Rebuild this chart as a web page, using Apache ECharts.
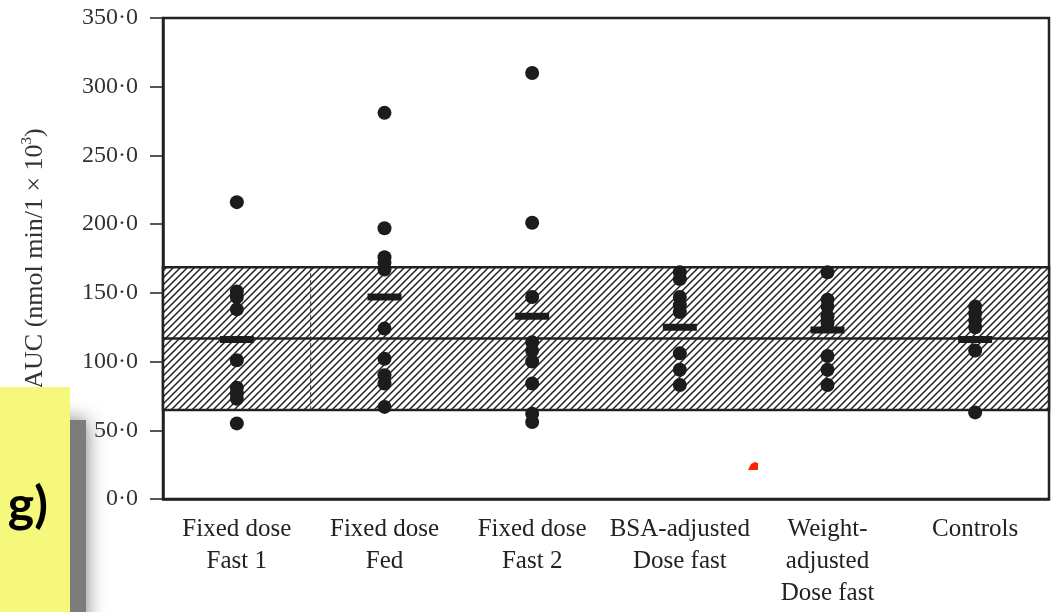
<!DOCTYPE html>
<html>
<head>
<meta charset="utf-8">
<script src="https://cdn.jsdelivr.net/npm/echarts@6/dist/echarts.min.js"></script>
<style>
  html, body { margin: 0; padding: 0; background: #fff; }
  #chart { width: 1057px; height: 612px; }
</style>
</head>
<body>
<div id="chart"></div>
<script>
// Study groups along the x axis
const categories = [
  'Fixed dose\nFast 1',
  'Fixed dose\nFed',
  'Fixed dose\nFast 2',
  'BSA-adjusted\nDose fast',
  'Weight-\nadjusted\nDose fast',
  'Controls'
];

// Individual AUC values (nmol min/l × 10³) per group
const fixedFast1     = [216, 151, 147, 138, 101, 81, 77, 73, 55];
const fixedFed       = [281, 197, 176, 172, 167, 124, 102, 90, 84, 67];
const fixedFast2     = [310, 201, 147, 114, 108, 100, 84, 62, 56];
const bsaAdjusted    = [165, 160, 147, 141, 136, 106, 94, 83];
const weightAdjusted = [165, 145, 140, 133, 128, 104, 94, 83];
const controls       = [140, 135, 130, 125, 108, 63];

// Group means (horizontal bars)
const groupMeans = [116, 147, 133, 125, 123, 116];

// Control reference range (mean and band limits)
const refMean = 117;
const refLow = 64.7;
const refHigh = 168.6;

// Y axis ticks
const yTickValues = [0, 50, 100, 150, 200, 250, 300, 350];

const groups = [fixedFast1, fixedFed, fixedFast2, bsaAdjusted, weightAdjusted, controls];
const pointData = [];
groups.forEach((vals, i) => vals.forEach(v => pointData.push([i, v])));
const meanData = groupMeans.map((m, i) => [i, m]);

// Diagonal hatch tile for the reference band
function hatchTile() {
  const s = 7;
  const c = document.createElement('canvas');
  c.width = s; c.height = s;
  const g = c.getContext('2d');
  g.fillStyle = '#ffffff';
  g.fillRect(0, 0, s, s);
  g.strokeStyle = '#222222';
  g.lineWidth = 1.5;
  g.beginPath();
  g.moveTo(-1, s + 1); g.lineTo(s + 1, -1);
  g.moveTo(-1, 1); g.lineTo(1, -1);
  g.moveTo(s - 1, s + 1); g.lineTo(s + 1, s - 1);
  g.stroke();
  return c;
}
const hatch = hatchTile();

const serif = '"Liberation Serif", "Times New Roman", serif';
const ink = '#222222';
const dot = '#1c1c1c';

const chart = echarts.init(document.getElementById('chart'), null, { renderer: 'canvas' });

chart.setOption({
  animation: false,
  backgroundColor: '#ffffff',
  grid: {
    left: 163, right: 8, top: 18, bottom: 113,
    show: true, borderColor: ink, borderWidth: 2.5, backgroundColor: 'transparent'
  },
  xAxis: [
    {
      type: 'category',
      data: categories,
      boundaryGap: true,
      axisLine: { lineStyle: { color: ink, width: 2.5 } },
      axisTick: { length: 9, lineStyle: { color: ink, width: 1.5 } },
      axisLabel: {
        interval: 0, margin: 14, color: ink,
        fontFamily: serif, fontSize: 25, lineHeight: 32
      },
      splitLine: { show: false }
    },
    {
      type: 'value', min: 0, max: categories.length, show: false
    }
  ],
  yAxis: {
    type: 'value',
    min: yTickValues[0],
    max: yTickValues[yTickValues.length - 1],
    interval: 50,
    name: '{t|AUC (nmol min/1 × 10}{sup|3}{t|)}',
    nameLocation: 'middle',
    nameGap: 113,
    nameRotate: 90,
    nameTextStyle: {
      rich: {
        t: { fontFamily: serif, fontSize: 26, color: '#333', lineHeight: 30 },
        sup: { fontFamily: serif, fontSize: 15, color: '#333', verticalAlign: 'top', lineHeight: 30 }
      }
    },
    axisLine: { show: true, lineStyle: { color: ink, width: 2.5 } },
    axisTick: { show: true, length: 13, lineStyle: { color: ink, width: 1.5 } },
    axisLabel: {
      margin: 25, color: '#333', fontFamily: serif, fontSize: 24,
      formatter: v => v.toFixed(1).replace('.', '\u00B7')
    },
    splitLine: { show: false }
  },
  series: [
    {
      // hatched reference band across the full plot width
      type: 'custom',
      xAxisIndex: 1,
      z: 1,
      silent: true,
      data: [[0, refLow, categories.length, refHigh]],
      renderItem: (params, api) => {
        const p0 = api.coord([api.value(0), api.value(3)]);
        const p1 = api.coord([api.value(2), api.value(1)]);
        return {
          type: 'rect',
          shape: { x: p0[0], y: p0[1], width: p1[0] - p0[0], height: p1[1] - p0[1] },
          style: { fill: { image: hatch, repeat: 'repeat' }, stroke: ink, lineWidth: 2.5 }
        };
      }
    },
    {
      // dashed divider inside the band and the reference mean line
      type: 'line',
      xAxisIndex: 1,
      z: 2,
      symbol: 'none',
      silent: true,
      data: [[1, refLow], [1, refHigh]],
      lineStyle: { color: '#333', width: 1, type: [4, 3] },
      markLine: {
        silent: true, symbol: 'none', z: 2,
        label: { show: false },
        lineStyle: { color: ink, width: 2.5, type: 'solid', opacity: 1 },
        data: [{ yAxis: refMean }]
      }
    },
    {
      name: 'Individual',
      type: 'scatter',
      z: 5,
      symbol: 'circle',
      symbolSize: 14,
      itemStyle: { color: dot, opacity: 1 },
      data: pointData
    },
    {
      // group mean bars
      name: 'Mean',
      type: 'custom',
      z: 6,
      silent: true,
      data: meanData,
      renderItem: (params, api) => {
        const c = api.coord([api.value(0), api.value(1)]);
        const w = 34, h = 7;
        return {
          type: 'rect',
          shape: { x: c[0] - w / 2, y: c[1] - h / 2, width: w, height: h },
          style: { fill: dot, stroke: null }
        };
      }
    }
  ],
  graphic: [
    {
      // soft drop shadow behind the yellow note
      type: 'rect', z: 100,
      shape: { x: 30, y: 420, width: 56, height: 220 },
      style: { fill: '#7c7c7c', shadowBlur: 20, shadowColor: '#7c7c7c' }
    },
    {
      type: 'rect', z: 101,
      shape: { x: 0, y: 387, width: 70, height: 225 },
      style: { fill: '#f6f87b' }
    },
    {
      type: 'text', z: 102,
      style: {
        x: 48, y: 506, text: 'g)', fill: '#000',
        font: 'bold 50px Lato, "Open Sans", sans-serif',
        align: 'right', verticalAlign: 'middle'
      }
    },
    {
      type: 'polygon', z: 102,
      shape: { points: [[748, 470], [751, 464], [755, 462], [758, 463], [758, 470]] },
      style: { fill: '#ff2200' }
    }
  ]
});
</script>
</body>
</html>
